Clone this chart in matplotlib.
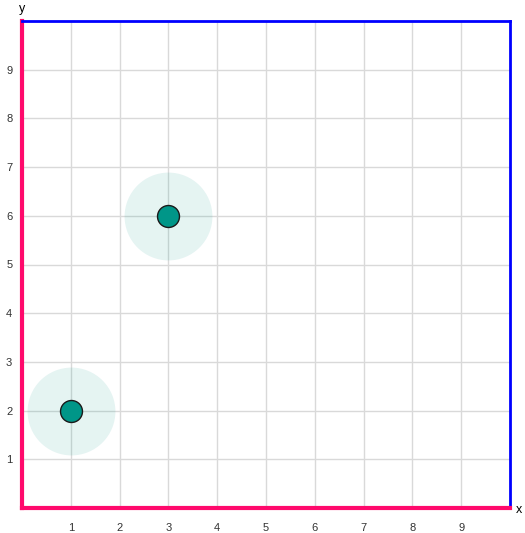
import matplotlib
matplotlib.use('Agg')
import matplotlib.pyplot as plt

plt.rcParams['font.family'] = ['Liberation Sans', 'DejaVu Sans']

# Data
xs = [1, 3]
ys = [2, 6]
ticks = [1, 2, 3, 4, 5, 6, 7, 8, 9]

fig = plt.figure(figsize=(5.25, 5.33), dpi=100)
ax = fig.add_axes([22/525, 1 - 508/533, 488/525, 487/533])
ax.set_xlim(0, 10)
ax.set_ylim(0, 10)

# grid
ax.set_xticks(ticks)
ax.set_yticks(ticks)
ax.grid(True, color='#d9d9d9', linewidth=1)
ax.set_axisbelow(True)
ax.tick_params(length=0, labelsize=8, labelcolor='#333333')
ax.tick_params(axis='x', pad=11)
ax.tick_params(axis='y', pad=7)

# spines
ax.spines['left'].set_color('#ff0a6c')
ax.spines['left'].set_linewidth(3)
ax.spines['bottom'].set_color('#ff0a6c')
ax.spines['bottom'].set_linewidth(3)
ax.spines['top'].set_color('#0000ff')
ax.spines['top'].set_linewidth(2)
ax.spines['right'].set_color('#0000ff')
ax.spines['right'].set_linewidth(2)

# halos and points
ax.scatter(xs, ys, s=4000, color='#009688', alpha=0.1, linewidths=0, zorder=3)
ax.scatter(xs, ys, s=250, color='#009688', edgecolors='#1a1a1a', linewidths=1, zorder=4)

ax.text(1.012, -0.005, 'x', transform=ax.transAxes, fontsize=9, ha='left', va='center')
ax.text(0.0, 1.012, 'y', transform=ax.transAxes, fontsize=9, ha='center', va='bottom')

fig.savefig('out.png', dpi=100)
